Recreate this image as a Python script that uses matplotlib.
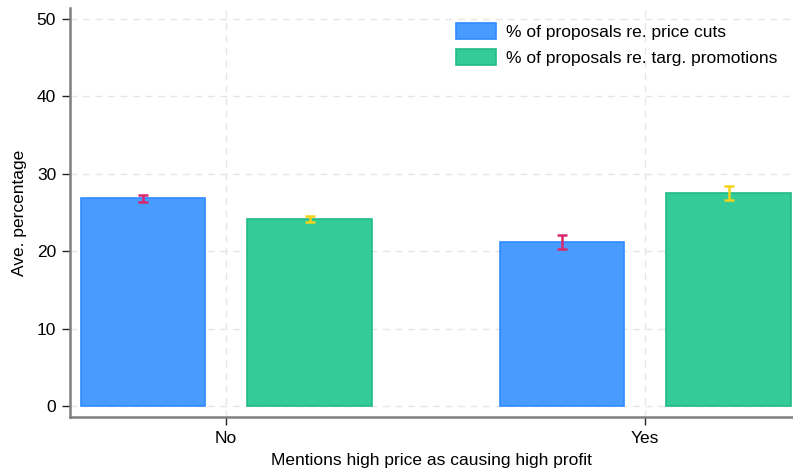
import numpy as np
import matplotlib.pyplot as plt

plt.rcParams['font.family'] = ['Liberation Sans', 'DejaVu Sans']

groups = ["No", "Yes"]
price_cuts = [26.87, 21.19]
price_cuts_err = [0.45, 0.93]
targ_promos = [24.16, 27.52]
targ_promos_err = [0.43, 0.90]

blue = "#4a9bff"
green = "#33cc99"
fs = 12.5

fig = plt.figure(figsize=(7.93, 4.70), dpi=100)
ax = fig.add_axes([0.0883, 0.1128, 0.9117, 0.870])

x = np.arange(len(groups))
w = 0.298
off = 0.2

ax.bar(x - off + 0.002, price_cuts, width=w, color=blue, edgecolor="#2f8bff",
       linewidth=1.2, label="% of proposals re. price cuts", zorder=2)
ax.bar(x + off, targ_promos, width=w, color=green, edgecolor="#22bb88",
       linewidth=1.2, label="% of proposals re. targ. promotions", zorder=2)

ax.errorbar(x - off + 0.002, price_cuts, yerr=price_cuts_err, fmt="none",
            ecolor="#d9286e", elinewidth=1.8, capsize=3.5, capthick=1.8, zorder=3)
ax.errorbar(x + off, targ_promos, yerr=targ_promos_err, fmt="none",
            ecolor="#f2d31a", elinewidth=1.8, capsize=3.5, capthick=1.8, zorder=3)

ax.set_xlim(-0.3723, 1.3532)
ax.set_ylim(-1.42, 51.42)
ax.set_yticks(range(0, 51, 10))
ax.set_xticks(x)
ax.set_xticklabels(groups)

ax.grid(True, linestyle=(0, (5, 4)), color="#e6e6e6", linewidth=1.0, zorder=0)
ax.set_axisbelow(True)

for s in ["top", "right"]:
    ax.spines[s].set_visible(False)
for s in ["left", "bottom"]:
    ax.spines[s].set_color("#7f7f7f")
    ax.spines[s].set_linewidth(1.8)

ax.tick_params(axis="both", length=6, width=1.0, color="#222222",
               labelsize=fs, pad=4)

ax.set_xlabel("Mentions high price as causing high profit", fontsize=fs, labelpad=5)
ax.set_ylabel("Ave. percentage", fontsize=fs, labelpad=7)

ax.legend(loc="upper right", frameon=False, fontsize=fs,
          handlelength=2.3, handleheight=1.05, handletextpad=0.58,
          labelspacing=0.5, bbox_to_anchor=(1.0005, 1.002))

fig.savefig("out.png", dpi=100)
